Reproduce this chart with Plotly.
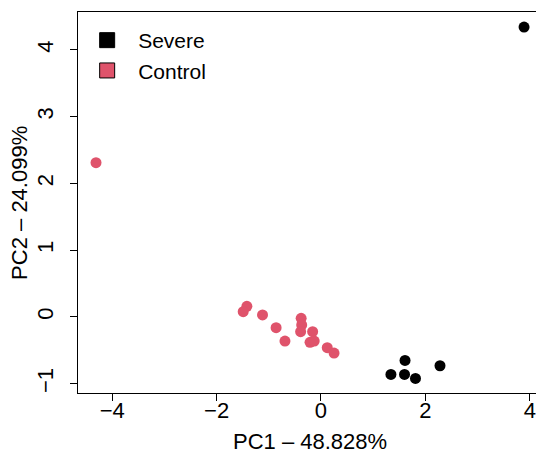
import plotly.graph_objects as go

# Data
severe_pc1 = [3.89, 1.61, 1.34, 1.60, 1.81, 2.28]
severe_pc2 = [4.34, -0.65, -0.86, -0.86, -0.92, -0.73]

control_pc1 = [-4.31, -1.42, -1.49, -1.12, -0.86, -0.69, -0.38, -0.37, -0.39,
               -0.16, -0.21, -0.13, 0.12, 0.25]
control_pc2 = [2.31, 0.16, 0.08, 0.03, -0.16, -0.36, -0.02, -0.12, -0.22,
               -0.22, -0.38, -0.36, -0.46, -0.54]

group_names = ["Severe", "Control"]
group_colors = ["#000000", "#DF536B"]
x_ticks = [-4, -2, 0, 2, 4]
y_ticks = [-1, 0, 1, 2, 3, 4]
x_title = "PC1 – 48.828%"
y_title = "PC2 – 24.099%"

FONT = "Liberation Sans, Arial, Helvetica, sans-serif"
FS = 22

fig = go.Figure()
fig.add_trace(go.Scatter(x=severe_pc1, y=severe_pc2, mode="markers",
                         marker=dict(color=group_colors[0], size=11),
                         showlegend=False, hoverinfo="x+y", cliponaxis=False))
fig.add_trace(go.Scatter(x=control_pc1, y=control_pc2, mode="markers",
                         marker=dict(color=group_colors[1], size=11),
                         showlegend=False, hoverinfo="x+y", cliponaxis=False))
# legend entries (filled squares)
for name, col in zip(group_names, group_colors):
    fig.add_trace(go.Scatter(x=[None], y=[None], mode="markers", name=name,
                             marker=dict(symbol="square", color=col, size=15,
                                         line=dict(color="#000000", width=1))))

axis_common = dict(
    showgrid=False, zeroline=False, showline=True, linecolor="#000000",
    linewidth=1, ticks="outside", ticklen=7, tickwidth=1, tickcolor="#000000",
    tickfont=dict(family=FONT, size=FS, color="#000000"), automargin=False,
)

fig.update_layout(
    width=536, height=457,
    margin=dict(l=78, r=0, t=12, b=64, autoexpand=False),
    paper_bgcolor="white", plot_bgcolor="white",
    font=dict(family=FONT, size=FS, color="#000000"),
    xaxis=dict(range=[-4.655, 4.119], tickvals=x_ticks, mirror=True,
               ticklabeloverflow="allow", ticklabelstandoff=-9,
               **axis_common),
    yaxis=dict(range=[-1.138, 4.566], tickvals=y_ticks, tickangle=-90,
               ticklabelstandoff=8,
               **axis_common),
    legend=dict(x=-0.004, y=0.979, xanchor="left", yanchor="top",
                bgcolor="rgba(0,0,0,0)", borderwidth=0,
                font=dict(family=FONT, size=21, color="#000000"),
                itemwidth=52, tracegroupgap=0),
    annotations=[
        dict(text=x_title, xref="paper", yref="paper", x=0.5055, y=-0.1286,
             xanchor="center", yanchor="middle", showarrow=False,
             font=dict(family=FONT, size=FS, color="#000000")),
        dict(text=y_title, xref="paper", yref="paper", x=-0.128, y=0.5,
             xanchor="center", yanchor="middle", showarrow=False, textangle=-90,
             font=dict(family=FONT, size=FS, color="#000000")),
    ],
)

fig.write_html(
    "out.html",
    config={"displayModeBar": False},
    post_script="document.body.style.margin='0';document.body.style.overflow='hidden';",
)
